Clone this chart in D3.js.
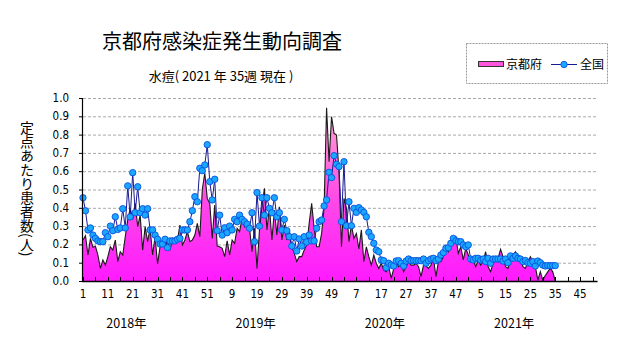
<!DOCTYPE html>
<html><head><meta charset="utf-8">
<script src="https://cdn.jsdelivr.net/npm/d3@7"></script>
<style>
html,body{margin:0;padding:0;background:#fff;}
svg{display:block;}
.cjk{font-family:"Noto Sans CJK JP","Noto Sans",sans-serif;}
.num{font-family:"Liberation Sans Narrow","DejaVu Sans Condensed","Liberation Sans",sans-serif;}
</style></head>
<body>
<svg id="c" width="631" height="347"></svg>
<script>
// ---- data ----
const titleText = "京都府感染症発生動向調査";
const subtitleText = "水痘( 2021 年 35週 現在 )";
const yAxisTitle = "定点あたり患者数(人)";
const seriesNames = ["京都府", "全国"];
const years = ["2018年", "2019年", "2020年", "2021年"];
const weeksPerYear = 52;
const yTicks = [0.0, 0.1, 0.2, 0.3, 0.4, 0.5, 0.6, 0.7, 0.8, 0.9, 1.0];
const xTickLabels = ["1","11","21","31","41","51","9","19","29","39","49","7","17","27","37","47","5","15","25","35","45"];

const kyoto = [
0.224,0.248,0.142,0.233,0.184,0.19,0.142,0.069,0.115,0.087,
0.133,0.187,0.169,0.224,0.106,0.16,0.142,0.242,0.333,0.397,
0.337,0.424,0.297,0.36,0.169,0.297,0.215,0.288,0.142,0.242,
0.093,0.187,0.228,0.191,0.224,0.169,0.233,0.215,0.224,0.306,
0.197,0.224,0.27,0.215,0.224,0.251,0.315,0.242,0.50,0.59,
0.45,0.424,0.233,0.415,0.191,0.187,0.179,0.133,0.22,0.142,
0.224,0.206,0.288,0.27,0.342,0.297,0.324,0.288,0.16,0.288,
0.069,0.279,0.406,0.506,0.279,0.406,0.224,0.388,0.251,0.406,
0.224,0.306,0.224,0.279,0.187,0.151,0.106,0.133,0.133,0.169,
0.197,0.315,0.424,0.288,0.187,0.187,0.26,0.40,0.947,0.652,
0.898,0.807,0.798,0.597,0.187,0.452,0.397,0.215,0.306,0.233,
0.26,0.175,0.279,0.106,0.187,0.133,0.087,0.142,0.097,0.069,
0.097,0.06,0.051,0.078,0.015,0.066,0.106,0.078,0.097,0.051,
0.078,0.106,0.087,0.087,0.097,0.078,0.024,0.087,0.082,0.069,
0.087,0.124,0.024,0.106,0.106,0.133,0.187,0.16,0.206,0.233,
0.242,0.151,0.187,0.115,0.179,0.142,0.106,0.115,0.078,0.115,
0.087,0.106,0.16,0.078,0.051,0.097,0.115,0.124,0.173,0.133,
0.078,0.069,0.124,0.142,0.16,0.133,0.124,0.078,0.069,0.106,
0.133,0.106,0.078,0.005,0.051,0.005,0.03,0.05,0.07,0.05,
0.0];

const national = [
0.455,0.384,0.279,0.29,0.251,0.233,0.219,0.215,0.215,0.264,
0.242,0.30,0.275,0.351,0.282,0.29,0.395,0.29,0.52,0.35,
0.592,0.373,0.515,0.373,0.395,0.36,0.395,0.279,0.279,0.251,
0.228,0.202,0.202,0.228,0.182,0.219,0.219,0.219,0.228,0.233,
0.279,0.279,0.279,0.324,0.384,0.461,0.433,0.616,0.603,0.634,
0.745,0.543,0.443,0.556,0.275,0.36,0.251,0.291,0.264,0.30,
0.279,0.337,0.324,0.36,0.337,0.324,0.311,0.288,0.373,0.215,
0.483,0.30,0.455,0.36,0.455,0.397,0.373,0.455,0.351,0.373,
0.279,0.337,0.275,0.242,0.191,0.242,0.164,0.23,0.191,0.242,
0.213,0.251,0.219,0.219,0.288,0.324,0.333,0.41,0.443,0.594,
0.565,0.685,0.638,0.625,0.324,0.652,0.302,0.433,0.302,0.397,
0.375,0.401,0.388,0.375,0.351,0.266,0.242,0.206,0.169,0.16,
0.115,0.111,0.073,0.097,0.087,0.082,0.109,0.111,0.097,0.082,
0.109,0.12,0.111,0.111,0.111,0.111,0.111,0.12,0.097,0.111,
0.12,0.124,0.111,0.12,0.142,0.155,0.179,0.182,0.206,0.233,
0.22,0.215,0.215,0.197,0.187,0.197,0.12,0.115,0.124,0.124,
0.115,0.12,0.106,0.124,0.097,0.12,0.12,0.12,0.12,0.109,
0.12,0.1,0.137,0.124,0.137,0.124,0.12,0.106,0.112,0.1,
0.097,0.106,0.082,0.109,0.1,0.087,0.082,0.084,0.084,0.084,
0.084];

// ---- layout ----
const svg = d3.select("#c");
const L = 83, R = 597.5, T = 98, B = 281;
const totalWeeks = weeksPerYear * years.length;
const x = d3.scaleLinear().domain([1, totalWeeks]).range([L, R]);
const y = d3.scaleLinear().domain([0, 1]).range([B, T]);

// gradient
const defs = svg.append("defs");
const g1 = defs.append("linearGradient").attr("id","pinkg")
  .attr("gradientUnits","userSpaceOnUse").attr("x1",0).attr("x2",0)
  .attr("y1",y(0)).attr("y2",y(1));
g1.append("stop").attr("offset","0").attr("stop-color","#ff1aff");
g1.append("stop").attr("offset","0.45").attr("stop-color","#ff4ae6");
g1.append("stop").attr("offset","1").attr("stop-color","#ffb0d0");

// title
svg.append("text").attr("class","cjk").attr("x",222).attr("y",49)
  .attr("text-anchor","middle").attr("font-size",20).attr("fill","#000").text(titleText);
svg.append("text").attr("class","cjk").attr("x",221).attr("y",81)
  .attr("text-anchor","middle").attr("font-size",13).attr("fill","#000").text(subtitleText);

// y axis title (vertical)
svg.append("text").attr("class","cjk").attr("x",27).attr("y",121)
  .attr("font-size",14).attr("fill","#000")
  .style("writing-mode","vertical-rl").text(yAxisTitle);

// gridlines
svg.append("g").selectAll("line").data(yTicks.filter(d => d > 0)).join("line")
  .attr("x1",L).attr("x2",R).attr("y1",d => y(d)+0.5).attr("y2",d => y(d)+0.5)
  .attr("stroke","#a8a8a8").attr("stroke-width",1).attr("stroke-dasharray","3,2");

// y tick labels
svg.append("g").selectAll("text").data(yTicks).join("text").attr("class","num")
  .attr("x",69).attr("y",d => y(d)+4).attr("text-anchor","end")
  .attr("font-size",11.5).attr("fill","#000").text(d => d.toFixed(1));

// area
const idx = kyoto.map((v,i) => i+1);
const area = d3.area().x((d,i) => x(i+1)).y0(y(0)).y1(d => y(d));
svg.append("path").datum(kyoto).attr("d",area).attr("fill","url(#pinkg)");
const lineK = d3.line().x((d,i) => x(i+1)).y(d => y(d));
svg.append("path").datum(kyoto).attr("d",lineK).attr("fill","none")
  .attr("stroke","#1a1a1a").attr("stroke-width",1.1);

// national line
const lineN = d3.line().x((d,i) => x(i+1)).y(d => y(d));
svg.append("path").datum(national).attr("d",lineN).attr("fill","none")
  .attr("stroke","#1a1a90").attr("stroke-width",1);
svg.append("g").selectAll("circle").data(national).join("circle")
  .attr("cx",(d,i) => x(i+1)).attr("cy",d => y(d)).attr("r",3.2)
  .attr("fill","#1aa8ff").attr("stroke","#0a50e0").attr("stroke-width",0.9);

// axes
svg.append("line").attr("x1",L-0.5).attr("x2",L-0.5).attr("y1",T).attr("y2",B+1)
  .attr("stroke","#000").attr("stroke-width",1.2);
svg.append("g").selectAll("line").data(yTicks).join("line")
  .attr("x1",L-4).attr("x2",L).attr("y1",d => y(d)+0.5).attr("y2",d => y(d)+0.5)
  .attr("stroke","#000");
svg.append("line").attr("x1",L-1).attr("x2",R).attr("y1",B+0.5).attr("y2",B+0.5)
  .attr("stroke","#000").attr("stroke-width",1.4);
const tickIdx = d3.range(1, totalWeeks, 5);
svg.append("g").selectAll("line").data(tickIdx).join("line")
  .attr("x1",d => Math.round(x(d))+0.5).attr("x2",d => Math.round(x(d))+0.5)
  .attr("y1",B-4).attr("y2",B).attr("stroke","#000");
svg.append("g").selectAll("text").data(xTickLabels).join("text").attr("class","num")
  .attr("x",(d,k) => x(1 + k*10)).attr("y",298).attr("text-anchor","middle")
  .attr("font-size",11.5).attr("fill","#000").text(d => d);

// year labels
svg.append("g").selectAll("text").data(years).join("text").attr("class","cjk")
  .attr("x",(d,k) => x(1 + k*weeksPerYear + 17.5)).attr("y",328).attr("text-anchor","middle")
  .attr("font-size",12.5).attr("fill","#000").text(d => d);

// legend
const lg = svg.append("g");
lg.append("rect").attr("x",466.5).attr("y",43.5).attr("width",141).attr("height",40)
  .attr("fill","#fff").attr("stroke","#999").attr("stroke-dasharray","2,1");
lg.append("rect").attr("x",478.5).attr("y",61.5).attr("width",25).attr("height",5)
  .attr("fill","#ff55dd").attr("stroke","#333").attr("stroke-width",1);
lg.append("text").attr("class","cjk").attr("x",506).attr("y",69)
  .attr("font-size",12).attr("fill","#000").text(seriesNames[0]);
lg.append("line").attr("x1",551).attr("x2",577).attr("y1",64.5).attr("y2",64.5)
  .attr("stroke","#1a1a90");
lg.append("circle").attr("cx",564).attr("cy",64.5).attr("r",3.2)
  .attr("fill","#1aa8ff").attr("stroke","#0a50e0").attr("stroke-width",0.9);
lg.append("text").attr("class","cjk").attr("x",580).attr("y",69)
  .attr("font-size",12).attr("fill","#000").text(seriesNames[1]);
</script>
</body></html>
